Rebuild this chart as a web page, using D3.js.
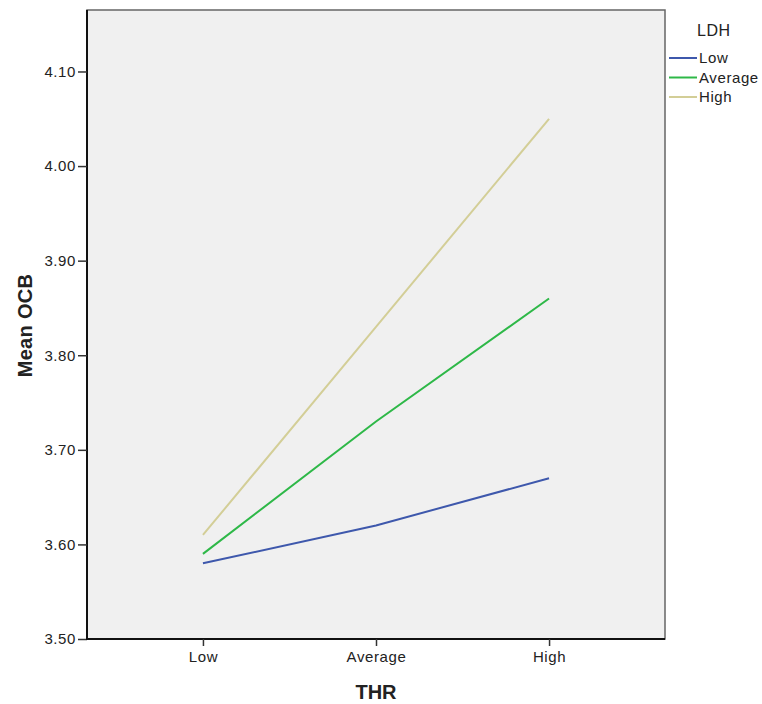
<!DOCTYPE html>
<html>
<head>
<meta charset="utf-8">
<script src="https://cdn.jsdelivr.net/npm/d3@7"></script>
<style>
  body { margin: 0; background: #fff; }
  svg text { font-family: "Liberation Sans", Arial, sans-serif; fill: #222; }
</style>
</head>
<body>
<svg width="762" height="704"></svg>
<script>
const categories = ["Low", "Average", "High"];
const seriesNames = ["Low", "Average", "High"];
const lowValues = [3.58, 3.62, 3.67];
const averageValues = [3.59, 3.73, 3.86];
const highValues = [3.61, 3.83, 4.05];
const yTicks = [3.5, 3.6, 3.7, 3.8, 3.9, 4.0, 4.1];
const colors = ["#3e58ac", "#2eb848", "#d3ce97"];

const series = [lowValues, averageValues, highValues].map((vals, i) => ({
  name: seriesNames[i],
  color: colors[i],
  values: vals.map((v, j) => ({ cat: categories[j], v }))
}));

const plotL = 87, plotR = 665, plotT = 10, plotB = 639;

const svg = d3.select("svg");

const x = d3.scalePoint().domain(categories).range([plotL, plotR]).padding(0.67);
const y = d3.scaleLinear().domain([3.5, 4.165]).range([plotB, plotT]);

// plot background + frame
svg.append("rect")
  .attr("x", plotL).attr("y", plotT)
  .attr("width", plotR - plotL).attr("height", plotB - plotT)
  .attr("fill", "#f0f0f0")
  .attr("stroke", "#666").attr("stroke-width", 1.5);

// axes
const yAxis = svg.append("g")
  .attr("transform", `translate(${plotL},0)`)
  .call(d3.axisLeft(y).tickValues(yTicks).tickFormat(d3.format(".2f")).tickSizeInner(9).tickSizeOuter(0).tickPadding(2));
const xAxis = svg.append("g")
  .attr("transform", `translate(0,${plotB})`)
  .call(d3.axisBottom(x).tickSizeInner(7).tickSizeOuter(0).tickPadding(5));

[yAxis, xAxis].forEach(g => {
  g.select(".domain").attr("stroke", "#111").attr("stroke-width", 2);
  g.selectAll(".tick line").attr("stroke", "#333").attr("stroke-width", 1.5);
  g.selectAll(".tick text").attr("font-size", 15).attr("fill", "#333")
    .attr("letter-spacing", 0.6)
    .attr("font-family", "Liberation Sans, Arial, sans-serif");
});
yAxis.select(".domain").attr("d", `M0,${plotT}V${plotB + 1}`);
xAxis.select(".domain").attr("d", `M${plotL - 1},0H${plotR}`);

// lines
const line = d3.line().x(d => x(d.cat)).y(d => y(d.v));
svg.selectAll(".series")
  .data(series)
  .enter()
  .append("path")
  .attr("class", "series")
  .attr("d", d => line(d.values))
  .attr("fill", "none")
  .attr("stroke", d => d.color)
  .attr("stroke-width", 2);

// axis titles
svg.append("text")
  .attr("x", x("Average")).attr("y", 699)
  .attr("text-anchor", "middle")
  .attr("font-size", 20).attr("font-weight", "bold").attr("fill", "#111")
  .text("THR");
svg.append("text")
  .attr("transform", `translate(32,${(plotT + plotB) / 2 + 1}) rotate(-90)`)
  .attr("text-anchor", "middle")
  .attr("font-size", 20).attr("font-weight", "bold").attr("fill", "#111")
  .attr("letter-spacing", 0.3)
  .text("Mean OCB");

// legend
const legend = svg.append("g").attr("transform", "translate(669,0)");
legend.append("text")
  .attr("x", 28).attr("y", 36)
  .attr("font-size", 16).attr("letter-spacing", 0.5)
  .text("LDH");
const rows = legend.selectAll(".row")
  .data(series)
  .enter()
  .append("g")
  .attr("transform", (d, i) => `translate(0,${58 + i * 19.5})`);
rows.append("line")
  .attr("x1", 0).attr("x2", 28)
  .attr("stroke", d => d.color).attr("stroke-width", 2);
rows.append("text")
  .attr("x", 30).attr("y", 5)
  .attr("font-size", 15).attr("letter-spacing", 0.6)
  .text(d => d.name);
</script>
</body>
</html>
